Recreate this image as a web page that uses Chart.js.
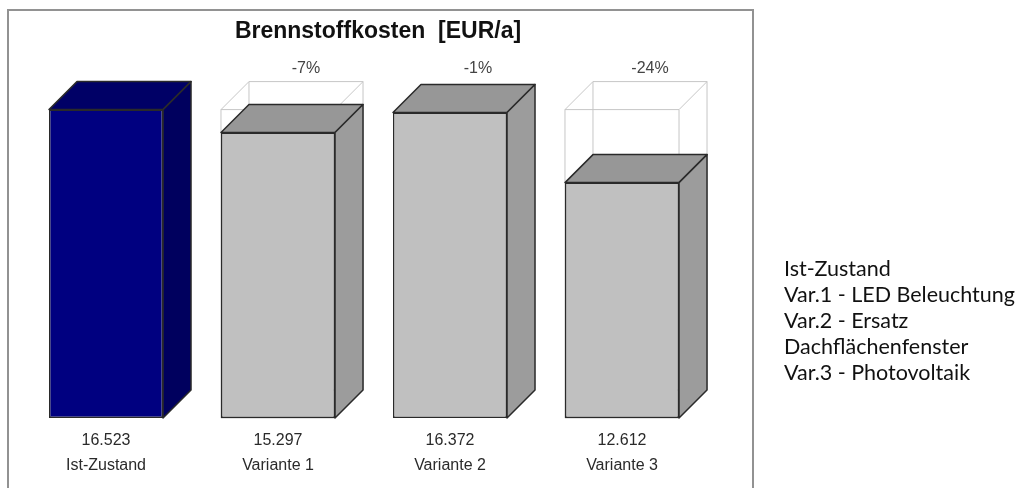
<!DOCTYPE html>
<html>
<head>
<meta charset="utf-8">
<script src="https://cdn.jsdelivr.net/npm/chart.js@4.4.1/dist/chart.umd.min.js"></script>
<style>
  html, body { margin: 0; padding: 0; background: #fff; width: 1022px; height: 488px; overflow: hidden; }
  #frame { position: absolute; left: 7px; top: 9px; width: 747px; height: 500px; border: 2px solid #929292; box-sizing: border-box; }
  #wrap { position: absolute; left: 0; top: 0; width: 1022px; height: 488px; }
  #legend { position: absolute; left: 784px; top: 255px; font-family: Lato, sans-serif; font-size: 21.5px; line-height: 26px; color: #111; white-space: nowrap; }
</style>
</head>
<body>
<div id="frame"></div>
<div id="wrap"><canvas id="c" width="1022" height="488"></canvas></div>
<div id="legend"></div>
<script>
// Annual fuel costs per scenario
const categories = ['Ist-Zustand', 'Variante 1', 'Variante 2', 'Variante 3'];
const costs = [16523, 15297, 16372, 12612];
const legendLines = ['Ist-Zustand', 'Var.1 - LED Beleuchtung', 'Var.2 - Ersatz', 'Dachflächenfenster', 'Var.3 - Photovoltaik'];
const chartTitle = 'Brennstoffkosten  [EUR/a]';
const yMax = 20000;

// Face colours of the boxes
const frontColors = ['#000080', '#c0c0c0', '#c0c0c0', '#c0c0c0'];
const topColors   = ['#000066', '#979797', '#979797', '#979797'];
const sideColors  = ['#00005e', '#9c9c9c', '#9c9c9c', '#9c9c9c'];
const DEPTH = 28;
const EDGE = '#2a2a2a';
const GHOST = '#c6c6c6';

document.getElementById('legend').innerHTML = legendLines.map(t => '<div>' + t + '</div>').join('');

const fmt = v => String(v).replace(/\B(?=(\d{3})+(?!\d))/g, '.');

function poly(ctx, pts, fill, stroke, lw) {
  ctx.beginPath();
  ctx.moveTo(pts[0][0], pts[0][1]);
  for (let i = 1; i < pts.length; i++) ctx.lineTo(pts[i][0], pts[i][1]);
  ctx.closePath();
  if (fill) { ctx.fillStyle = fill; ctx.fill(); }
  if (stroke) { ctx.strokeStyle = stroke; ctx.lineWidth = lw; ctx.lineJoin = 'round'; ctx.stroke(); }
}

const box3d = {
  id: 'box3d',
  beforeDatasetsDraw(chart) {
    // wireframe of the reference (Ist-Zustand) box behind each variant
    const ctx = chart.ctx;
    const meta = chart.getDatasetMeta(0);
    const yRef = chart.scales.y.getPixelForValue(costs[0]);
    ctx.save();
    meta.data.forEach((bar, i) => {
      if (i === 0) return;
      const p = bar.getProps(['x', 'y', 'base', 'width'], true);
      // skip outline when it would merge with the bar's own top edge
      if (p.y - yRef < 4) return;
      const x0 = p.x - p.width / 2, x1 = p.x + p.width / 2, d = DEPTH;
      ctx.strokeStyle = GHOST;
      ctx.lineWidth = 1;
      ctx.beginPath();
      ctx.rect(x0, yRef, x1 - x0, p.base - yRef);
      ctx.moveTo(x0, yRef); ctx.lineTo(x0 + d, yRef - d);
      ctx.lineTo(x1 + d, yRef - d); ctx.lineTo(x1, yRef);
      ctx.moveTo(x1 + d, yRef - d); ctx.lineTo(x1 + d, p.base - d); ctx.lineTo(x1, p.base);
      ctx.moveTo(x0 + d, yRef - d); ctx.lineTo(x0 + d, p.base - d); ctx.lineTo(x1 + d, p.base - d);
      ctx.stroke();
    });
    ctx.restore();
  },
  afterDatasetsDraw(chart) {
    const ctx = chart.ctx;
    const meta = chart.getDatasetMeta(0);
    const yRef = chart.scales.y.getPixelForValue(costs[0]);
    ctx.save();
    meta.data.forEach((bar, i) => {
      const p = bar.getProps(['x', 'y', 'base', 'width'], true);
      const x0 = p.x - p.width / 2, x1 = p.x + p.width / 2, d = DEPTH;
      // top face
      poly(ctx, [[x0, p.y], [x0 + d, p.y - d], [x1 + d, p.y - d], [x1, p.y]], topColors[i], EDGE, 1.5);
      // side face
      poly(ctx, [[x1, p.y], [x1 + d, p.y - d], [x1 + d, p.base - d], [x1, p.base]], sideColors[i], EDGE, 1.5);
      // change relative to Ist-Zustand
      if (i > 0) {
        const pct = Math.round((costs[i] / costs[0] - 1) * 100);
        ctx.fillStyle = '#444';
        ctx.font = '16px "Liberation Sans", Arial, sans-serif';
        ctx.textAlign = 'center';
        ctx.textBaseline = 'middle';
        ctx.fillText(pct + '%', p.x + d, yRef - d - 13);
      }
    });
    // title, centred over the boxes including their depth
    const area = chart.chartArea;
    ctx.fillStyle = '#111';
    ctx.font = 'bold 23px "Liberation Sans", Arial, sans-serif';
    ctx.textAlign = 'center';
    ctx.textBaseline = 'middle';
    ctx.fillText(chartTitle, (area.left + area.right + DEPTH) / 2, 32);
    ctx.restore();
  }
};

new Chart(document.getElementById('c'), {
  type: 'bar',
  data: {
    labels: categories,
    datasets: [{
      label: chartTitle,
      data: costs,
      backgroundColor: frontColors,
      borderColor: EDGE,
      borderWidth: 1.5,
      borderSkipped: false,
      barPercentage: 0.663,
      categoryPercentage: 1
    }]
  },
  options: {
    responsive: false,
    animation: false,
    devicePixelRatio: 1,
    layout: { padding: { left: 20, right: 314, top: 44.7, bottom: 10 } },
    plugins: { legend: { display: false }, tooltip: { enabled: false }, title: { display: false } },
    scales: {
      x: {
        grid: { display: false, drawTicks: false },
        border: { display: false },
        afterFit: scale => { scale.height = 60; },
        ticks: {
          autoSkip: false,
          maxRotation: 0,
          padding: 10,
          color: '#2a2a2a',
          font: { family: '"Liberation Sans", Arial, sans-serif', size: 16, lineHeight: 1.56 },
          callback: (v, i) => [fmt(costs[i]), categories[i]]
        }
      },
      y: { display: false, min: 0, max: yMax }
    }
  },
  plugins: [box3d]
});
</script>
</body>
</html>
